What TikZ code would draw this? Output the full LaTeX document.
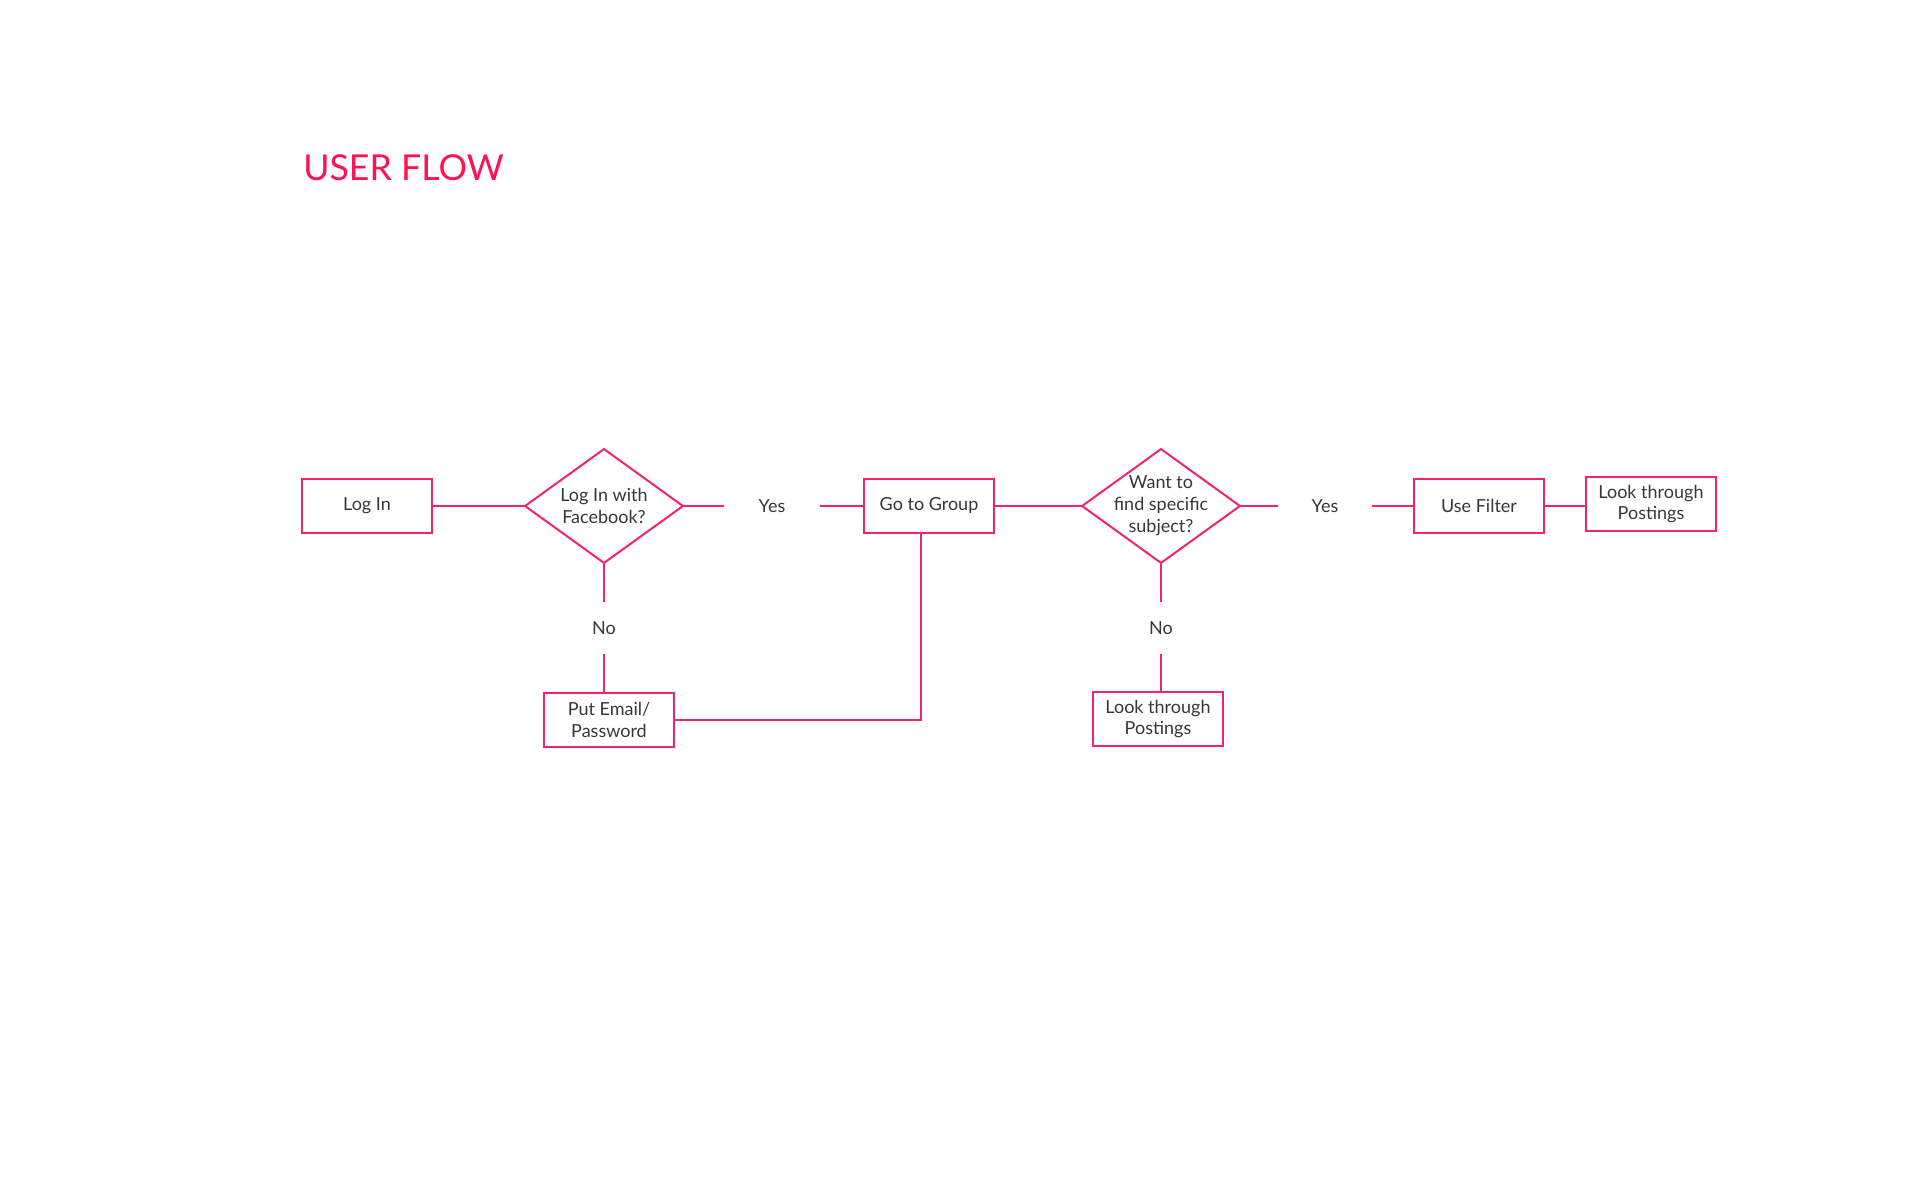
\documentclass[tikz,border=0pt]{standalone}
\usepackage{fontspec}
\setmainfont{Lato}
\usetikzlibrary{shapes.geometric}
\definecolor{flowpink}{RGB}{242,36,104}
\definecolor{titlered}{RGB}{255,18,82}
\definecolor{flowtext}{RGB}{55,55,55}
\begin{document}
\begin{tikzpicture}[x=0.75pt,y=-0.75pt,
    flowfont/.style={text=flowtext,font=\fontsize{13.5}{16.4}\selectfont},
    box/.style={draw=flowpink,line width=1.5pt,minimum width=97.5pt,minimum height=40pt,inner sep=0pt,align=center,flowfont},
    decision/.style={draw=flowpink,line width=1.5pt,diamond,minimum width=119pt,minimum height=86pt,inner sep=0pt},
    answer/.style={inner sep=0pt,flowfont},
    link/.style={draw=flowpink,line width=1.5pt}]
    \useasboundingbox (0,0) rectangle (1920,1200);
    \node[anchor=base west, inner sep=0pt, text=titlered, font=\fontsize{26.8}{32}\selectfont] (title) at (303,180) {USER FLOW};
    \node[box] (login) at (367,506) {Log In};
    \node[decision, label={[align=center,flowfont]center:Log In with\\Facebook?}] (fb) at (604,506) {};
    \node[answer, minimum width=72pt] (yes1) at (772,506) {Yes};
    \node[box] (group) at (929,506) {Go to Group};
    \node[decision, label={[align=center,flowfont]center:Want to\\find specific\\subject?}] (subj) at (1161,506) {};
    \node[answer, minimum width=70pt] (yes2) at (1325,506) {Yes};
    \node[box] (filter) at (1479,506) {Use Filter};
    \node[box] (post1) at (1651,504) {Look through\\Postings};
    \node[answer, minimum height=38pt] (no1) at (604,628) {No};
    \node[box] (email) at (609,720) {Put Email/\\Password};
    \node[answer, minimum height=38pt] (no2) at (1161,628) {No};
    \node[box] (post2) at (1158,719) {Look through\\Postings};
    \draw[link] (login) -- (fb);
    \draw[link] (fb) -- (yes1) -- (group);
    \draw[link] (group) -- (subj);
    \draw[link] (subj) -- (yes2) -- (filter);
    \draw[link] (filter.east) -- (filter.east -| post1.west);
    \draw[link] (fb.south) -- (no1.north);
    \draw[link] (no1.south) -- (no1.south |- email.north);
    \draw[link] (subj.south) -- (no2.north);
    \draw[link] (no2.south) -- (no2.south |- post2.north);
    \draw[link] (email.east) -| ([xshift=-6pt]group.south);
\end{tikzpicture}
\end{document}
